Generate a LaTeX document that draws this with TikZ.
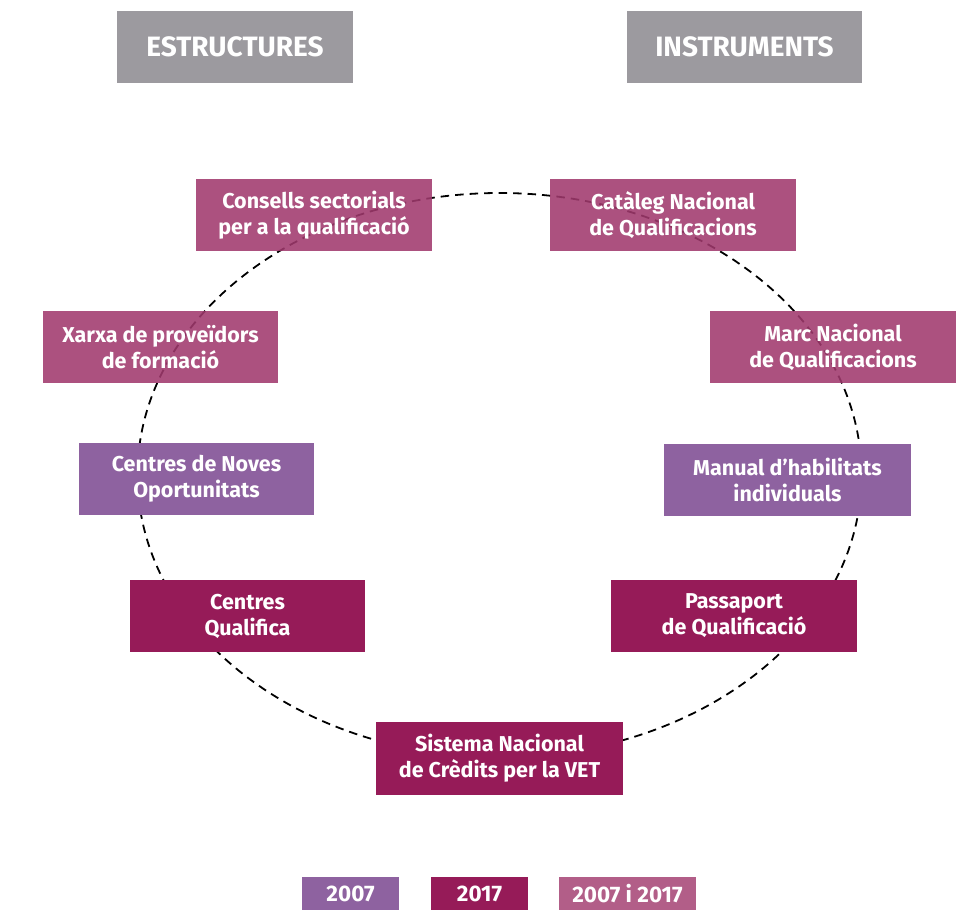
\documentclass[tikz,border=0pt]{standalone}
\usepackage{fontspec}
\setmainfont{Fira Sans}
\usepackage{tikz}
\usetikzlibrary{positioning}
\definecolor{headgrey}{HTML}{9C9A9F}
\definecolor{lila}{HTML}{8E62A0}
\definecolor{vi}{HTML}{961B58}
\definecolor{rosa}{HTML}{A0396D}
\definecolor{rosallum}{HTML}{B25E88}
\tikzset{
  caixa/.style={rectangle,minimum height=72pt,align=center,text=white,
    font=\fontsize{21.5}{26}\selectfont\bfseries,inner sep=0pt},
  capcalera/.style={caixa,fill=headgrey,minimum width=236pt,
    font=\fontsize{28}{30}\selectfont\bfseries},
  ambdos/.style={caixa,fill=rosa,fill opacity=0.88,text opacity=1},
  any2007/.style={caixa,fill=lila},
  any2017/.style={caixa,fill=vi},
  llegenda/.style={rectangle,minimum height=33pt,text=white,inner sep=0pt,
    font=\fontsize{22.5}{24}\selectfont\bfseries},
  cercle/.style={draw=black,line width=1.8pt,dash pattern=on 8.5pt off 6pt}
}
\begin{document}
\begin{tikzpicture}[x=1pt,y=-1pt]
    \useasboundingbox (0,0) rectangle (960,910);
    % cercle de fons
    \path [cercle] (499.5,475) ellipse [x radius=362, y radius=282];
    % capcaleres
    \node (estructures) at (235,47) [capcalera] {ESTRUCTURES};
    \node (instruments) at (744.5,47) [capcalera,minimum width=235pt] {INSTRUMENTS};
    % estructures
    \node (consells) at (314,215) [ambdos,minimum width=236pt] {Consells sectorials\\per a la qualificació};
    \node (xarxa) at (160.5,347) [ambdos,minimum width=235pt] {Xarxa de proveïdors\\de formació};
    \node (noves) at (196.5,479) [any2007,minimum width=235pt] {Centres de Noves\\Oportunitats};
    \node (qualifica) at (247.5,616) [any2017,minimum width=235pt] {Centres\\Qualifica};
    % instruments
    \node (cataleg) at (673,215) [ambdos,minimum width=246pt] {Catàleg Nacional\\de Qualificacions};
    \node (marc) at (833,347) [ambdos,minimum width=246pt] {Marc Nacional\\de Qualificacions};
    \node (manual) at (787.5,479.5) [any2007,minimum width=247pt] {Manual d’habilitats\\individuals};
    \node (passaport) at (734,616) [any2017,minimum width=246pt] {Passaport\\de Qualificació};
    \node (sistema) at (499.5,758.5) [any2017,minimum width=247pt,minimum height=73pt] {Sistema Nacional\\de Crèdits per la VET};
    % llegenda
    \node (ll2007) at (350.5,893.5) [llegenda,fill=lila,minimum width=97pt] {2007};
    \node (ll2017) at (479.5,893.5) [llegenda,fill=vi,minimum width=97pt] {2017};
    \node (llambdos) at (627.5,893.5) [llegenda,fill=rosallum,minimum width=137pt] {2007 i 2017};
\end{tikzpicture}
\end{document}
